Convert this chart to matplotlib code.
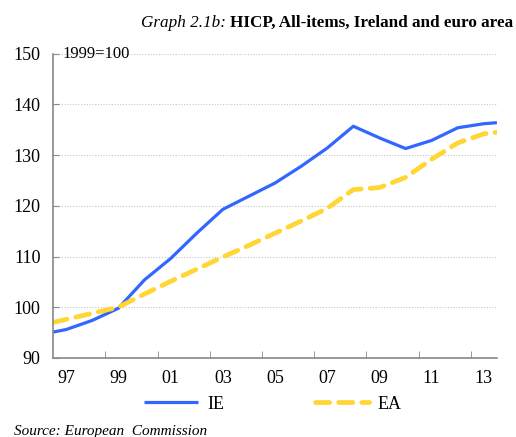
import matplotlib
matplotlib.use("Agg")
import matplotlib.pyplot as plt
from matplotlib.ticker import FixedLocator

# values (1999=100), half-year ends included
years = [1996.5, 1997, 1998, 1999, 2000, 2001, 2002, 2003, 2004, 2005, 2006,
         2007, 2008, 2009, 2010, 2011, 2012, 2013, 2013.5]
ie = [95.1, 95.6, 97.4, 99.8, 105.4, 109.6, 114.6, 119.3, 121.9, 124.5, 127.8,
      131.4, 135.7, 133.4, 131.3, 132.9, 135.4, 136.2, 136.4]
ea = [97.0, 97.6, 98.8, 100.0, 102.6, 105.1, 107.5, 109.9, 112.2, 114.6, 117.0,
      119.5, 123.2, 123.6, 125.6, 129.2, 132.4, 134.2, 134.5]
tick_years = [1997, 1999, 2001, 2003, 2005, 2007, 2009, 2011, 2013]
tick_labels = ["97", "99", "01", "03", "05", "07", "09", "11", "13"]

plt.rcParams["font.family"] = ["Liberation Serif", "DejaVu Serif"]

fig = plt.figure(figsize=(5.16, 4.37), dpi=100)
ax = fig.add_axes([0.103, 0.181, 0.860, 0.696])

ax.plot(years, ie, color="#3366ff", lw=2.3, label="IE", solid_capstyle="butt")
ax.plot(years, ea, color="#ffd633", lw=3.4, dashes=(3.0, 1.9), label="EA",
        dash_capstyle="round")

ax.set_xlim(1996.5, 2013.5)
ax.set_ylim(90, 150)
ax.set_yticks(range(90, 151, 10))
ax.set_xticks(tick_years)
ax.set_xticklabels(tick_labels)
ax.xaxis.set_minor_locator(FixedLocator([1998.5 + 2 * i for i in range(8)]))
ax.tick_params(axis="x", which="major", length=0, pad=9, labelsize=13)
ax.tick_params(axis="x", which="minor", direction="in", length=5,
               color="#888888")
ax.tick_params(axis="y", direction="in", length=4, color="#888888",
               labelsize=13, pad=9)

for s in ["top", "right"]:
    ax.spines[s].set_visible(False)
for s in ["left", "bottom"]:
    ax.spines[s].set_color("#888888")
    ax.spines[s].set_linewidth(1.2)
ax.grid(axis="y", color="#c8c8c8", ls=(0, (1, 1.5)), lw=0.8)
ax.set_axisbelow(True)

ax.text(0.02, 1.0, "1999=100", transform=ax.transAxes, fontsize=12,
        va="center", ha="left")

# title: italic label followed directly by the bold text
bold = fig.text(0.994, 0.948, "HICP, All-items, Ireland and euro area",
                weight="bold", fontsize=12.3, ha="right", va="center")
fig.canvas.draw()
bb = bold.get_window_extent()
x0, _ = fig.transFigure.inverted().transform((bb.x0, bb.y0))
fig.text(x0, 0.948, "Graph 2.1b: ", style="italic", fontsize=12.3,
         ha="right", va="center")

fig.legend(loc="center", bbox_to_anchor=(0.529, 0.075), ncol=2, frameon=False,
           fontsize=13, handlelength=3.0, columnspacing=5.0, handletextpad=0.5)

fig.text(0.028, 0.004, "Source: European  Commission", style="italic",
         fontsize=11, ha="left", va="baseline")

fig.savefig("out.png", dpi=100)
